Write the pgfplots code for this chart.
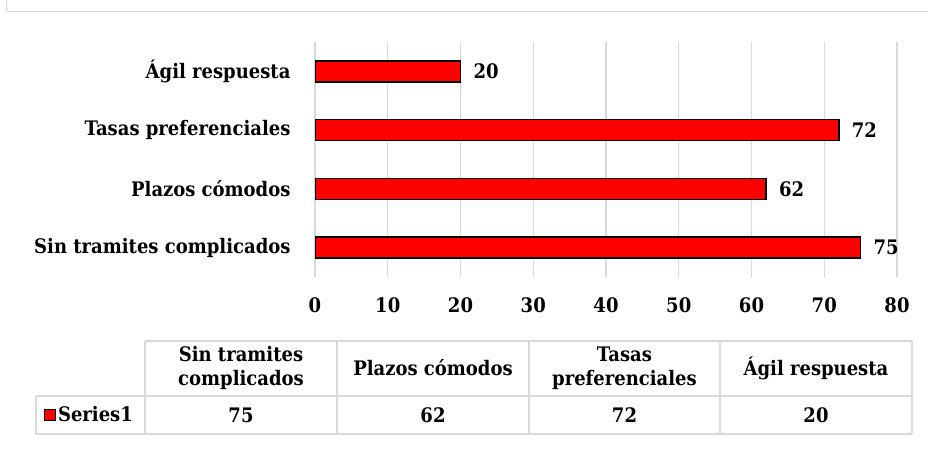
\documentclass[border=0pt]{standalone}
\usepackage{pgfplots}
\pgfplotsset{compat=1.18}
\usepackage{fontspec}
\setmainfont{DejaVu Serif Condensed}
\definecolor{gridgray}{HTML}{D9D9D9}
\definecolor{barred}{HTML}{FF0000}

\begin{document}
\begin{tikzpicture}[x=1pt,y=1pt,font=\fontsize{20}{22}\selectfont\bfseries]
	\useasboundingbox (0,0) rectangle (928,456);
	% outer chart frame (only top and left fall inside the image)
	\draw[gridgray, line width=1pt] (6,456) -- (6,444) -- (940,444);
	\begin{axis}[
		at={(315pt,179pt)}, anchor=south west,
		width=582pt, height=235pt, scale only axis,
		xbar, bar width=21pt,
		xmin=0, xmax=80, ymin=-0.5, ymax=3.5,
		xtick distance=10,
		ytick={0,1,2,3},
		yticklabels={Sin tramites complicados, Plazos cómodos, Tasas preferenciales, Ágil respuesta},
		axis line style={draw=none},
		major tick length=0pt,
		xmajorgrids, grid style={gridgray, line width=1.2pt},
		xticklabel style={yshift=-17pt},
		yticklabel style={xshift=-21pt},
		/pgf/number format/assume math mode=true,
		nodes near coords,
		nodes near coords style={xshift=9pt},
		legend style={at={(-0.4656,-0.587)}, anchor=west, draw=none, fill=none, inner sep=0pt,
			legend cell align=left},
		legend image code/.code={\draw[fill=barred, draw=black, line width=0.8pt] (0pt,-5.5pt) rectangle (11pt,5.5pt);},
	]
		\addplot[fill=barred, draw=black, line width=1.4pt] coordinates {(75,0) (62,1) (72,2) (20,3)};
		\addlegendentry{Series1}
	\end{axis}
	% data table below the chart
	\begin{scope}[gridgray, line width=1.2pt]
		\draw (145,115) -- (912,115);
		\draw (36,60) -- (912,60);
		\draw (36,22) -- (912,22);
		\draw (36,60) -- (36,22);
		\foreach \xx in {145,337,529,720,912} \draw (\xx,115) -- (\xx,22);
	\end{scope}
	\begin{scope}[every node/.style={align=center, text=black, font=\fontsize{20}{24}\selectfont\bfseries}]
		\node at (241,88) {Sin tramites\\complicados};
		\node at (433,88) {Plazos cómodos};
		\node at (624.5,88) {Tasas\\preferenciales};
		\node at (816,88) {Ágil respuesta};
		\node at (241,41) {75};
		\node at (433,41) {62};
		\node at (624.5,41) {72};
		\node at (816,41) {20};
	\end{scope}
\end{tikzpicture}
\end{document}
